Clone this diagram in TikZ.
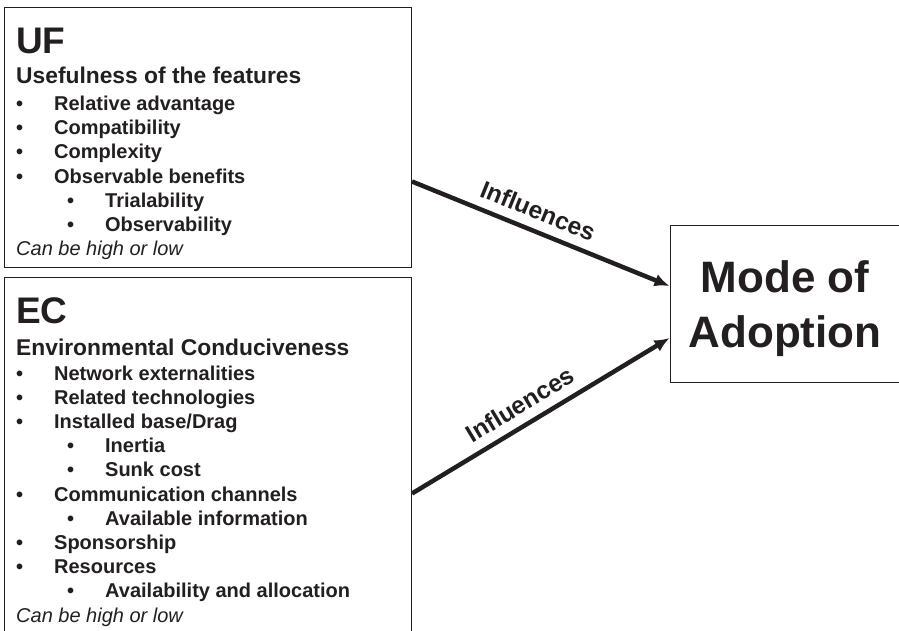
\documentclass[tikz,border=0pt]{standalone}
\usepackage{fontspec}
\setmainfont{Liberation Sans}
\usetikzlibrary{arrows.meta}
\definecolor{ink}{HTML}{231F20}
\tikzstyle{frame} = [
    rectangle,
    draw=ink,
    line width=1pt,
    anchor=north west,
    inner sep=0pt
]
\tikzstyle{title} = [
    anchor=base west,
    inner sep=0pt,
    text=ink,
    font=\fontsize{37}{37}\selectfont\bfseries
]
\tikzstyle{subtitle} = [
    anchor=base west,
    inner sep=0pt,
    text=ink,
    font=\fontsize{22.8}{24}\selectfont\bfseries
]
\tikzstyle{item} = [
    anchor=base west,
    inner sep=0pt,
    text=ink,
    font=\fontsize{20}{24}\selectfont\bfseries
]
\tikzstyle{note} = [
    anchor=base west,
    inner sep=0pt,
    text=ink,
    font=\fontsize{20}{24}\selectfont\itshape
]
\tikzstyle{target_text} = [
    align=center,
    inner sep=0pt,
    text=ink,
    font=\fontsize{44}{55}\selectfont\bfseries
]
\tikzstyle{influence} = [
    draw=ink,
    line width=4.5pt,
    -{Latex[length=15pt,width=13pt]}
]
\tikzstyle{influence_label} = [
    sloped,
    above=9pt,
    inner sep=0pt,
    pos=0.46,
    text=ink,
    font=\fontsize{24.5}{24.5}\selectfont\bfseries
]
\newcommand{\bul}{\makebox[38pt][l]{\textbullet}}

\begin{document}
\begin{tikzpicture}[x=1pt, y=-1pt]
\useasboundingbox (0,0) rectangle (899,630);
\clip (0,0) rectangle (899,630);

% usefulness of the features
\node [frame, minimum width=407pt, minimum height=260pt] (ufbox) at (4,7) {};
\node [title] (uf-title) at (16,53) {UF};
\node [subtitle] (uf-sub) at (16,83) {Usefulness of the features};
\foreach \lvl/\txt [count=\i] in {0/Relative advantage, 0/Compatibility,
    0/Complexity, 0/Observable benefits, 1/Trialability, 1/Observability}
    \node [item] (uf-\i) at (16+51*\lvl, 110.5+24.2*\i-24.2) {\bul\txt};
\node [note] (uf-note) at (16,255) {Can be high or low};

% environmental conduciveness
\node [frame, minimum width=407pt, minimum height=363pt] (ecbox) at (4,277) {};
\node [title] (ec-title) at (16,323) {EC};
\node [subtitle] (ec-sub) at (16,355) {Environmental Conduciveness};
\foreach \lvl/\txt [count=\i] in {0/Network externalities, 0/Related technologies,
    0/{Installed base/Drag}, 1/Inertia, 1/Sunk cost, 0/Communication channels,
    1/Available information, 0/Sponsorship, 0/Resources,
    1/Availability and allocation}
    \node [item] (ec-\i) at (16+51*\lvl, 380+24.2*\i-24.2) {\bul\txt};
\node [note] (ec-note) at (16,622) {Can be high or low};

% mode of adoption
\node [frame, anchor=center, minimum width=230pt, minimum height=157pt] (mode) at (785,303.5) {};
\node [target_text] (mode-text) at ([yshift=-5.5pt]mode.center) {Mode of\\Adoption};

\coordinate (uf-out) at ([yshift=-44pt]ufbox.east);
\coordinate (ec-out) at ([yshift=-34.5pt]ecbox.east);
\draw [influence] (uf-out) -- node [influence_label] {Influences} ([yshift=17.5pt]mode.west);
\draw [influence] (ec-out) -- node [influence_label] {Influences} ([yshift=-34.5pt]mode.west);
\end{tikzpicture}
\end{document}
